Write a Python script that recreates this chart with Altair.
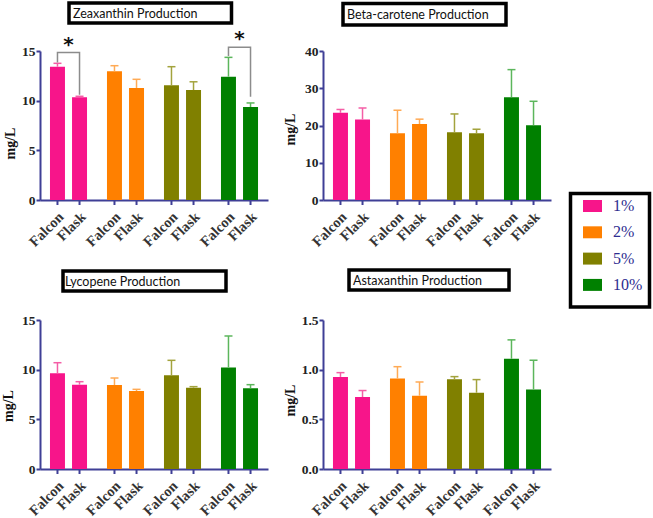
import altair as alt
import pandas as pd

# categories
groups = ["1%", "2%", "5%", "10%"]
vessels = ["Falcon", "Flask"]

# mean concentration (mg/L) per group, Falcon then Flask
zea_mean = [13.42, 10.34, 12.95, 11.28, 11.54, 11.07, 12.42, 9.36]
zea_err = [0.34, 0.10, 0.57, 0.87, 1.88, 0.83, 1.94, 0.41]
beta_mean = [23.4, 21.6, 17.9, 20.4, 18.2, 17.9, 27.6, 20.1]
beta_err = [0.9, 3.1, 6.2, 1.3, 4.9, 1.1, 7.4, 6.4]
lyc_mean = [9.63, 8.49, 8.46, 7.85, 9.43, 8.19, 10.23, 8.12]
lyc_err = [1.07, 0.30, 0.70, 0.17, 1.51, 0.10, 3.16, 0.37]
asta_mean = [0.927, 0.725, 0.91, 0.738, 0.903, 0.768, 1.11, 0.80]
asta_err = [0.043, 0.065, 0.12, 0.138, 0.027, 0.132, 0.19, 0.295]

# significance brackets (zeaxanthin): bracket top, left leg end, right leg end, star height
sig_groups = ["1%", "10%"]
sig_top = [14.85, 15.37]
sig_left = [13.85, 14.5]
sig_right = [10.6, 10.4]
sig_star = [15.6, 16.2]

titles = ["Zeaxanthin Production", "Beta-carotene Production",
          "Lycopene Production", "Astaxanthin Production"]
ticks_zea = [0, 5, 10, 15]
ticks_beta = [0, 10, 20, 30, 40]
ticks_lyc = [0, 5, 10, 15]
ticks_asta = [0.0, 0.5, 1.0, 1.5]

bar_colors = ["#f7158a", "#ff8000", "#808000", "#008000"]
err_colors = ["#f45ea6", "#ffaa55", "#a3a33d", "#5cb65c"]
NAVY = "#3f3f96"
SERIF = "Liberation Serif"
W, H = 228, 149


def panel(title, means, errs, ticks, fmt, box, text_pos, title_y, title_x, extra=None):
    df = pd.DataFrame({
        "group": [g for g in groups for _ in vessels],
        "vessel": vessels * len(groups),
        "mean": means,
        "err": errs,
    })
    df["upper"] = df["mean"] + df["err"]

    x = alt.X("group:N", sort=groups,
              scale=alt.Scale(domain=groups, paddingInner=0.35, paddingOuter=0.175),
              axis=alt.Axis(labels=False, ticks=False, title=None,
                            domainColor=NAVY, domainWidth=2))
    xo = alt.XOffset("vessel:N", sort=vessels,
                     scale=alt.Scale(domain=vessels, paddingInner=0.32, paddingOuter=0))
    yscale = alt.Scale(domain=[ticks[0], ticks[-1]], nice=False, zero=True)
    yaxis = alt.Axis(values=ticks, format=fmt, title="mg/L", grid=False,
                     domainColor=NAVY, domainWidth=2, tickColor=NAVY, tickWidth=2,
                     tickSize=4, labelPadding=1, labelFont=SERIF, labelFontSize=13.5,
                     labelFontWeight="bold", labelColor="#222222",
                     titleFont=SERIF, titleFontSize=14, titleFontWeight="bold",
                     titleColor="#111111", titleAngle=270, titleBaseline="middle",
                     titleAlign="center", titleX=title_x, titleY=title_y)

    bars = alt.Chart(df).mark_bar().encode(
        x=x, xOffset=xo,
        y=alt.Y("mean:Q", scale=yscale, axis=yaxis),
        color=alt.Color("group:N", scale=alt.Scale(domain=groups, range=bar_colors),
                        legend=alt.Legend(title=None)),
    )
    err_line = alt.Chart(df).mark_rule(strokeWidth=1.5).encode(
        x=x, xOffset=xo,
        y=alt.Y("mean:Q", scale=yscale, axis=yaxis), y2="upper:Q",
        stroke=alt.Stroke("group:N", scale=alt.Scale(domain=groups, range=err_colors),
                          legend=None),
    )
    err_cap = alt.Chart(df).mark_point(shape="M-1,0L1,0", size=64, strokeWidth=1.5,
                                       filled=False, opacity=1).encode(
        x=x, xOffset=xo,
        y=alt.Y("upper:Q", scale=yscale, axis=yaxis),
        stroke=alt.Stroke("group:N", scale=alt.Scale(domain=groups, range=err_colors),
                          legend=None),
    )
    xticks = alt.Chart(df).mark_rule(color=NAVY, strokeWidth=2).encode(
        x=x, xOffset=xo, y=alt.value(H), y2=alt.value(H + 5))
    xlabels = alt.Chart(df).mark_text(
        angle=315, align="right", baseline="middle", font=SERIF, fontSize=14.5,
        fontWeight="bold", color="#333333", dx=3, dy=3).encode(
        x=x, xOffset=xo, y=alt.value(H + 15), text="vessel:N")

    tdf = pd.DataFrame({"title": [title]})
    tbox = alt.Chart(tdf).mark_rect(fill="white", stroke="black", strokeWidth=3.5).encode(
        x=alt.value(box[0]), x2=alt.value(box[1]), y=alt.value(box[2]), y2=alt.value(box[3]))
    ttext = alt.Chart(tdf).mark_text(align="left", baseline="middle", font="Lato",
                                     fontSize=12.5, color="#111111").encode(
        x=alt.value(text_pos[0]), y=alt.value(text_pos[1]), text="title:N")

    layers = [bars, err_line, err_cap, xticks, xlabels, tbox, ttext]
    if extra is not None:
        layers += extra(x, xo, yscale, yaxis)
    return alt.layer(*layers).properties(width=W, height=H)


def sig_layers(x, xo, yscale, yaxis):
    rows = []
    for g, top, lft, rgt in zip(sig_groups, sig_top, sig_left, sig_right):
        rows += [
            {"group": g, "vessel": "Falcon", "y": lft, "step": 0},
            {"group": g, "vessel": "Falcon", "y": top, "step": 1},
            {"group": g, "vessel": "Flask", "y": top, "step": 2},
            {"group": g, "vessel": "Flask", "y": rgt, "step": 3},
        ]
    bdf = pd.DataFrame(rows)
    bracket = alt.Chart(bdf).mark_line(color="#8c8c8c", strokeWidth=1.5).encode(
        x=x, xOffset=xo, y=alt.Y("y:Q", scale=yscale, axis=yaxis),
        detail="group:N", order="step:Q")
    sdf = pd.DataFrame({"group": sig_groups, "star": sig_star})
    stars = alt.Chart(sdf).mark_text(text="*", fontSize=20, fontWeight="bold",
                                     font="DejaVu Sans", baseline="middle",
                                     color="#111111").encode(
        x=x, y=alt.Y("star:Q", scale=yscale, axis=yaxis))
    return [bracket, stars]


def legend_frame(x, xo, yscale, yaxis):
    fdf = pd.DataFrame({"k": [0]})
    return [alt.Chart(fdf).mark_rect(fill="white", stroke="black", strokeWidth=3.5).encode(
        x=alt.value(247.5), x2=alt.value(326.5), y=alt.value(142.5), y2=alt.value(256))]


p1 = panel(titles[0], zea_mean, zea_err, ticks_zea, "d",
           (29, 191.5, -48, -28), (33, -37), 92, -30, sig_layers)
p2 = panel(titles[1], beta_mean, beta_err, ticks_beta, "d",
           (20, 183, -47.5, -26), (24, -36), 78, -33, legend_frame)
p3 = panel(titles[2], lyc_mean, lyc_err, ticks_lyc, "d",
           (23, 186, -49, -29), (25, -38), 85.5, -31.5)
p4 = panel(titles[3], asta_mean, asta_err, ticks_asta, ".1f",
           (26, 186, -50, -30), (30, -39), 80, -33)

top = alt.hconcat(p1, p2, spacing=55, bounds="flush").resolve_scale(color="shared")
bottom = alt.hconcat(p3, p4, spacing=55, bounds="flush").resolve_scale(color="shared")

# rows are laid out flush: spacing runs from the top row's origin to the bottom row's
chart = alt.vconcat(top, bottom, spacing=269, bounds="flush").resolve_scale(
    color="shared"
).properties(
    autosize=alt.AutoSizeParams(type="none"),
    padding={"left": 40, "top": 51, "right": 613, "bottom": 467},
    background="white",
).configure_view(strokeWidth=0).configure_legend(
    orient="none", legendX=543, legendY=145.5, padding=0,
    symbolType="M-1,-0.63L1,-0.63L1,0.63L-1,0.63Z", symbolSize=361,
    symbolStrokeWidth=0, symbolOpacity=1, labelFont=SERIF, labelFontSize=16,
    labelColor="#2d2d8f", labelOffset=11, rowPadding=8.3,
)

chart.save("out.html", embed_options={"renderer": "svg", "actions": False})
